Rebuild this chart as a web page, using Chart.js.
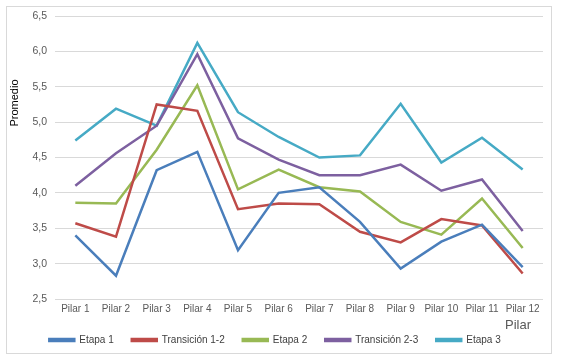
<!DOCTYPE html>
<html>
<head>
<meta charset="utf-8">
<script src="https://cdn.jsdelivr.net/npm/chart.js@4/dist/chart.umd.min.js"></script>
<style>
  body { margin: 0; background: #fff; }
  #wrap { position: absolute; left: 6px; top: 6px; width: 544px; height: 346px; border: 1px solid #d9d9d9; }
</style>
</head>
<body>
<div id="wrap"><canvas id="grafico" width="544" height="346"></canvas></div>
<script>
var pilares = ['Pilar 1', 'Pilar 2', 'Pilar 3', 'Pilar 4', 'Pilar 5', 'Pilar 6',
               'Pilar 7', 'Pilar 8', 'Pilar 9', 'Pilar 10', 'Pilar 11', 'Pilar 12'];
var etapa1      = [3.40, 2.83, 4.32, 4.58, 3.19, 4.00, 4.08, 3.59, 2.93, 3.31, 3.55, 2.95];
var transicion12 = [3.57, 3.38, 5.25, 5.16, 3.77, 3.85, 3.84, 3.45, 3.30, 3.63, 3.54, 2.86];
var etapa2      = [3.86, 3.85, 4.61, 5.52, 4.05, 4.33, 4.08, 4.02, 3.59, 3.41, 3.92, 3.22];
var transicion23 = [4.10, 4.56, 4.95, 5.96, 4.77, 4.47, 4.25, 4.25, 4.40, 4.03, 4.19, 3.46];
var etapa3      = [4.74, 5.19, 4.95, 6.12, 5.14, 4.79, 4.50, 4.53, 5.26, 4.43, 4.78, 4.33];

var gris = '#595959';

function serie(nombre, datos, color) {
  return {
    label: nombre,
    data: datos,
    borderColor: color,
    backgroundColor: color,
    borderWidth: 2.5,
    pointRadius: 0,
    tension: 0,
    fill: false
  };
}

// titulos de ejes dibujados a mano, como en Excel
var titulos = {
  id: 'titulos',
  afterDraw: function (chart) {
    var c = chart.ctx;
    c.save();
    c.fillStyle = '#000';
    c.font = '11px "Liberation Sans", Arial, sans-serif';
    c.textAlign = 'center';
    c.textBaseline = 'middle';
    c.translate(8, 96);
    c.rotate(-Math.PI / 2);
    c.fillText('Promedio', 0, 0);
    c.restore();

    c.save();
    c.fillStyle = gris;
    c.font = '13px "Liberation Sans", Arial, sans-serif';
    c.textAlign = 'right';
    c.textBaseline = 'middle';
    c.fillText('Pilar', 524, 318);
    c.restore();
  }
};

var ctx = document.getElementById('grafico').getContext('2d');
var grafico = new Chart(ctx, {
  type: 'line',
  data: {
    labels: pilares,
    datasets: [
      serie('Etapa 1', etapa1, '#4a7ebb'),
      serie('Transición 1-2', transicion12, '#be4b48'),
      serie('Etapa 2', etapa2, '#98b954'),
      serie('Transición 2-3', transicion23, '#7d60a0'),
      serie('Etapa 3', etapa3, '#46aac5')
    ]
  },
  plugins: [titulos],
  options: {
    responsive: false,
    animation: false,
    layout: { padding: { top: 0, right: 8, left: 0, bottom: 0 } },
    plugins: {
      tooltip: { enabled: false },
      legend: {
        position: 'bottom',
        maxHeight: 36,
        labels: {
          boxWidth: 25,
          boxHeight: 2,
          padding: 18,
          color: '#404040',
          font: { family: '"Liberation Sans", Arial, sans-serif', size: 10 }
        }
      }
    },
    scales: {
      x: {
        offset: true,
        grid: { display: false, drawTicks: false },
        border: { display: false },
        ticks: {
          color: gris,
          padding: 4,
          maxRotation: 0,
          autoSkip: false,
          font: { family: '"Liberation Sans", Arial, sans-serif', size: 10 }
        },
        afterFit: function (s) { s.height = 18; }
      },
      y: {
        min: 2.5,
        max: 6.5,
        grid: { color: '#d9d9d9', drawTicks: false },
        border: { display: false },
        ticks: {
          stepSize: 0.5,
          color: gris,
          padding: 8,
          font: { family: '"Liberation Sans", Arial, sans-serif', size: 10.5 },
          callback: function (v) { return v.toFixed(1).replace('.', ','); }
        },
        afterFit: function (s) { s.width = 48; s.paddingTop = 9; s.paddingBottom = 0; }
      }
    }
  }
});
</script>
</body>
</html>
